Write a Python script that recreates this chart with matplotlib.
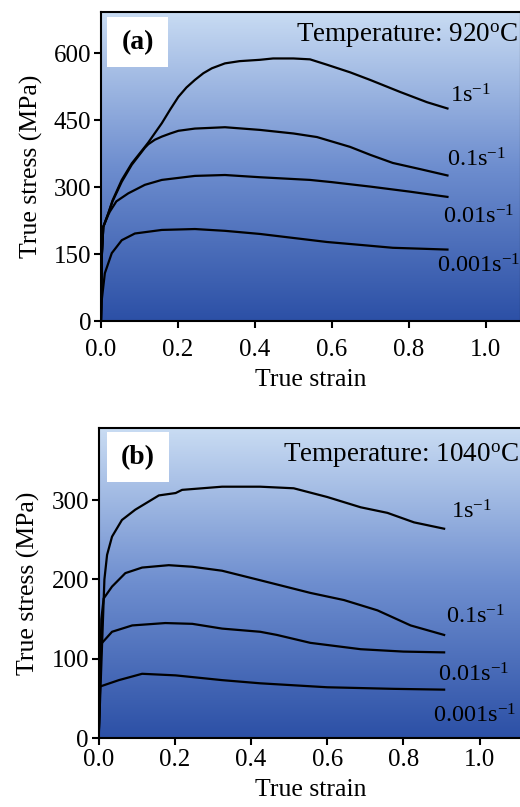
import matplotlib
matplotlib.use("Agg")
import matplotlib.pyplot as plt
from matplotlib.colors import LinearSegmentedColormap
from matplotlib.patches import Rectangle
import numpy as np

plt.rcParams['font.family'] = ['Liberation Serif', 'DejaVu Serif']
plt.rcParams['mathtext.fontset'] = 'custom'
plt.rcParams['mathtext.rm'] = 'Liberation Serif'
plt.rcParams['mathtext.it'] = 'Liberation Serif:italic'
plt.rcParams['mathtext.bf'] = 'Liberation Serif:bold'

# ---- data, 920 C ----
a_1_x = [0, 0.002, 0.006, 0.019, 0.03, 0.054, 0.08, 0.114, 0.123, 0.158, 0.18, 0.201, 0.222,
         0.244, 0.266, 0.288, 0.322, 0.36, 0.413, 0.447, 0.50, 0.543, 0.587, 0.647, 0.699,
         0.777, 0.847, 0.9]
a_1_y = [0, 144, 211, 241, 270, 316, 353, 390, 400, 443, 474, 502, 523,
         540, 555, 566, 577, 582, 585, 588, 588, 586, 574, 557, 540,
         513, 490, 476]
a_01_x = [0, 0.002, 0.006, 0.019, 0.03, 0.054, 0.08, 0.114, 0.123, 0.14, 0.158, 0.18, 0.201,
          0.244, 0.322, 0.413, 0.50, 0.561, 0.647, 0.70, 0.758, 0.83, 0.9]
a_01_y = [0, 144, 211, 241, 268, 312, 350, 388, 396, 406, 413, 420, 426,
          431, 434, 428, 420, 412, 390, 372, 354, 340, 326]
a_001_x = [0, 0.002, 0.006, 0.019, 0.023, 0.04, 0.071, 0.114, 0.158, 0.244, 0.322, 0.413,
           0.543, 0.6, 0.7, 0.8, 0.9]
a_001_y = [0, 144, 211, 238, 245, 268, 286, 305, 316, 325, 327, 322,
           316, 311, 301, 290, 278]
a_0001_x = [0, 0.002, 0.01, 0.028, 0.054, 0.088, 0.158, 0.244, 0.322, 0.413, 0.5, 0.587,
            0.68, 0.758, 0.83, 0.9]
a_0001_y = [0, 47, 107, 152, 181, 196, 204, 206, 202, 195, 186, 177,
            170, 164, 162, 160]

# ---- data, 1040 C ----
b_1_x = [0, 0.003, 0.009, 0.015, 0.022, 0.035, 0.061, 0.096, 0.158, 0.202, 0.219, 0.324,
         0.424, 0.512, 0.6, 0.688, 0.758, 0.828, 0.907]
b_1_y = [0, 40, 120, 200, 231, 254, 275, 288, 306, 309, 313, 317,
         317, 315, 304, 291, 284, 272, 264]
b_01_x = [0, 0.003, 0.007, 0.013, 0.035, 0.07, 0.114, 0.184, 0.246, 0.324, 0.424, 0.556,
          0.644, 0.732, 0.819, 0.907]
b_01_y = [0, 60, 150, 176, 191, 208, 215, 218, 216, 211, 199, 183,
          174, 161, 142, 130]
b_001_x = [0, 0.003, 0.007, 0.035, 0.088, 0.175, 0.246, 0.324, 0.424, 0.468, 0.556,
           0.688, 0.8, 0.907]
b_001_y = [0, 70, 119, 134, 142, 145, 144, 138, 134, 130, 120,
           112, 109, 108]
b_0001_x = [0, 0.002, 0.004, 0.053, 0.114, 0.202, 0.324, 0.424, 0.6, 0.775, 0.907]
b_0001_y = [0, 40, 65, 73, 81, 79, 73, 69, 64, 62, 61]

rate_labels = ['1s$^{\\mathrm{-1}}$', '0.1s$^{\\mathrm{-1}}$',
               '0.01s$^{\\mathrm{-1}}$', '0.001s$^{\\mathrm{-1}}$']
a_label_x = [0.906, 0.899, 0.888, 0.873]
a_label_y = [490, 345, 219, 108]
b_label_x = [0.924, 0.912, 0.89, 0.877]
b_label_y = [277, 145, 71, 19]

a_yticks = [0, 150, 300, 450, 600]
b_yticks = [0, 100, 200, 300]
xticks = [0.0, 0.2, 0.4, 0.6, 0.8, 1.0]

grad = LinearSegmentedColormap.from_list(
    'bg', ['#2c50a6', '#6e8ecf', '#c9dcf3'])

fig = plt.figure(figsize=(5.2, 8.07), dpi=100)
ax1 = fig.add_axes([0.1942, 0.6022, 0.8077, 0.3829])
ax2 = fig.add_axes([0.1898, 0.0855, 0.8137, 0.3841])


def draw_panel(ax, curves, lbl_x, lbl_y, yticks, ylim, xlim, tag, temp, temp_y,
               xpad, xlabpad):
    g = np.linspace(0, 1, 256).reshape(-1, 1)
    ax.imshow(g, cmap=grad, aspect='auto', extent=[0, 1, 0, 1],
              transform=ax.transAxes, origin='lower', zorder=0)
    for xs, ys in curves:
        ax.plot(xs, ys, color='black', lw=1.6, zorder=2)
    for t, lx, ly in zip(rate_labels, lbl_x, lbl_y):
        ax.text(lx, ly, t, fontsize=17.5, ha='left', va='baseline', zorder=3)
    ax.set_xlim(*xlim)
    ax.set_ylim(*ylim)
    ax.set_xticks(xticks)
    ax.set_xticklabels(['%.1f' % v for v in xticks])
    ax.set_yticks(yticks)
    ax.tick_params(direction='out', length=5, width=1.5, labelsize=18, pad=2)
    ax.tick_params(axis='x', pad=xpad)
    for s in ax.spines.values():
        s.set_linewidth(1.5)
    ax.set_xlabel('True strain', fontsize=18.5, labelpad=xlabpad)
    ax.set_ylabel('True stress (MPa)', fontsize=18.5, labelpad=8)
    ax.add_patch(Rectangle((tag[1], tag[2]), 0.146, 0.162, transform=ax.transAxes,
                           facecolor='white', edgecolor='none', zorder=3))
    ax.text(tag[1] + 0.073, tag[2] + 0.078, tag[0], transform=ax.transAxes,
            fontsize=20, fontweight='bold', ha='center', va='center', zorder=4)
    ax.text(0.993, temp_y, temp, transform=ax.transAxes, fontsize=19.5,
            ha='right', va='baseline', zorder=4)


draw_panel(ax1, [(a_1_x, a_1_y), (a_01_x, a_01_y), (a_001_x, a_001_y), (a_0001_x, a_0001_y)],
           a_label_x, a_label_y, a_yticks, (0, 692), (0, 1.091),
           ('(a)', 0.0144, 0.822), 'Temperature: 920$^{\\mathrm{o}}$C', 0.903, 8, 6)
draw_panel(ax2, [(b_1_x, b_1_y), (b_01_x, b_01_y), (b_001_x, b_001_y), (b_0001_x, b_0001_y)],
           b_label_x, b_label_y, b_yticks, (0, 391), (0, 1.111),
           ('(b)', 0.020, 0.826), 'Temperature: 1040$^{\\mathrm{o}}$C', 0.89, 3, 6)

fig.savefig('out.png', dpi=100)
